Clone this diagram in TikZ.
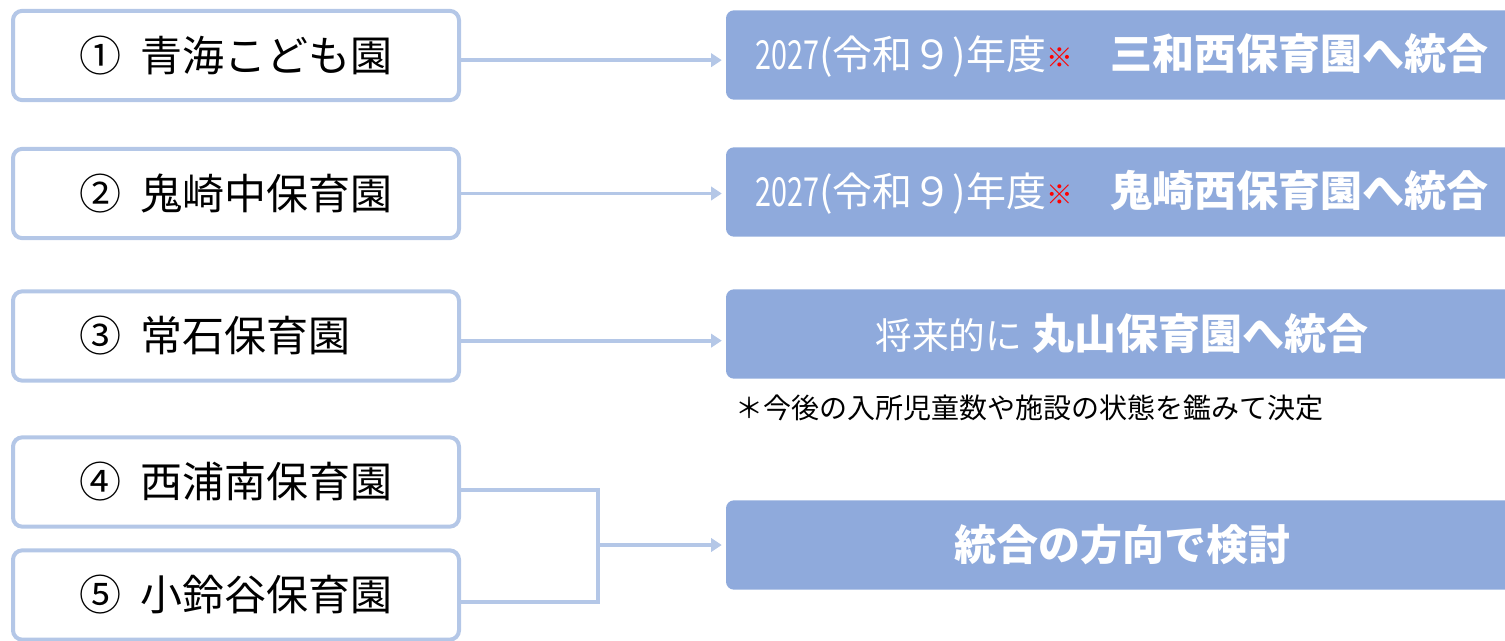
\documentclass[tikz,border=0pt]{standalone}
\usepackage{fontspec}
\setmainfont{Noto Sans CJK JP}
\usetikzlibrary{arrows.meta}
\definecolor{edgeblue}{HTML}{B4C7E7}
\definecolor{fillblue}{HTML}{8FAADC}
\tikzset{
  lbox/.style={draw=edgeblue, line width=3pt, rounded corners=7pt, fill=white,
    minimum width=334.5pt, minimum height=67pt, inner xsep=50pt, inner ysep=0pt,
    font=\fontsize{31.5pt}{36pt}\selectfont},
  rbox/.style={fill=fillblue, rounded corners=6pt, text=white,
    minimum width=594pt, minimum height=67pt, inner sep=0pt},
  conn/.style={draw=edgeblue, line width=2.8pt},
  arr/.style={conn, -{Triangle[length=8pt,width=10pt]}, shorten >=3pt},
}
\newcommand{\lt}[1]{\makebox[234.5pt][l]{#1}}
\newcommand{\yr}{{\fontsize{30pt}{36pt}\selectfont\scalebox{0.72}[1]{2027}(令和９)年度}}
\newcommand{\kome}{\textcolor{red}{\raisebox{0.12em}{\fontsize{20pt}{24pt}\selectfont ※}}}
\begin{document}
\begin{tikzpicture}[x=0.75pt,y=-0.75pt]
\useasboundingbox (0,0) rectangle (1505,641);
\clip (0,0) rectangle (1505,641);
% left boxes
\node[lbox] (l1) at (236,55.5) {\lt{①\hspace{0.45em}青海こども園}};
\node[lbox] (l2) at (236,193.5) {\lt{②\hspace{0.45em}鬼崎中保育園}};
\node[lbox] (l3) at (236,336) {\lt{③\hspace{0.45em}常石保育園}};
\node[lbox] (l4) at (236,482) {\lt{④\hspace{0.45em}西浦南保育園}};
\node[lbox] (l5) at (236,595) {\lt{⑤\hspace{0.45em}小鈴谷保育園}};
% right boxes
\node[rbox] (r1) at (1122,55) {\yr\kome\hspace{28pt}{\bfseries\fontsize{31.5pt}{36pt}\selectfont 三和西保育園へ統合}};
\node[rbox] (r2) at (1122,192) {\yr\kome\hspace{28pt}{\bfseries\fontsize{31.5pt}{36pt}\selectfont 鬼崎西保育園へ統合}};
\node[rbox] (r3) at (1122,334) {{\fontsize{27.5pt}{33pt}\selectfont 将来的に}\hspace{0.8em}{\bfseries\fontsize{31.5pt}{36pt}\selectfont 丸山保育園へ統合}};
\node[rbox] (r4) at (1122,545) {{\bfseries\fontsize{31.5pt}{36pt}\selectfont 統合の方向で検討}};
\node[anchor=west, inner sep=0pt, font=\fontsize{21pt}{25pt}\selectfont] (note) at (735,408) {＊今後の入所児童数や施設の状態を鑑みて決定};
% connectors
\draw[arr] ([yshift=-3.5pt]l1.east) -- ([yshift=-3.5pt]l1.east -| r1.west);
\draw[arr] (l2.east) -- (l2.east -| r1.west);
\draw[arr] ([yshift=-3.5pt]l3.east) -- ([yshift=-3.5pt]l3.east -| r3.west);
\coordinate (m4) at ([yshift=-6pt]l4.east);
\coordinate (m5) at ([yshift=-5pt]l5.east);
\coordinate (j4) at (598,490);
\coordinate (j5) at (598,602);
\coordinate (jm) at (598,545);
\draw[conn] (m4) -- (m4 -| j4) -- (m5 -| j5) -- (m5);
\draw[arr] (jm) -- (jm -| r4.west);
\end{tikzpicture}
\end{document}
